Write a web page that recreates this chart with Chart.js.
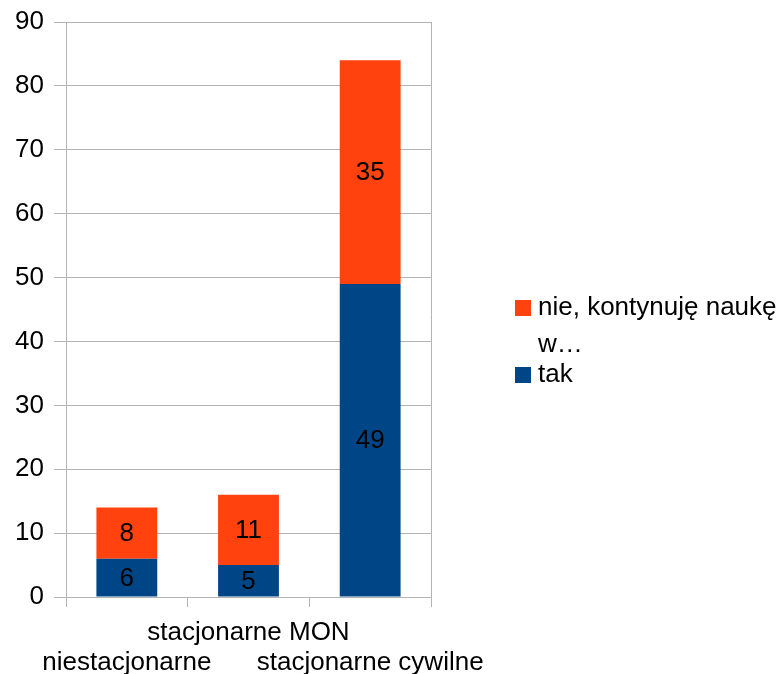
<!DOCTYPE html>
<html>
<head>
<meta charset="utf-8">
<script src="https://cdn.jsdelivr.net/npm/chart.js@4/dist/chart.umd.min.js"></script>
<style>
  html, body { margin: 0; padding: 0; background: #fff; }
  #wrap { width: 778px; height: 674px; }
</style>
</head>
<body>
<div id="wrap"><canvas id="chart" width="778" height="674"></canvas></div>
<script>
// Data
const categories = [['', 'niestacjonarne'], ['stacjonarne MON', ''], ['', 'stacjonarne cywilne']];
const takValues = [6, 5, 49];
const nieValues = [8, 11, 35];
const seriesNames = ['tak', 'nie, kontynuję naukę w…'];
const legendLines = [['nie, kontynuję naukę', 'w…'], ['tak']];
const yTicks = [0, 10, 20, 30, 40, 50, 60, 70, 80, 90];

const BLUE = '#004586';
const ORANGE = '#ff420e';
const FONT = "'Liberation Sans', Arial, sans-serif";

// Value labels in the middle of each segment
const segmentLabels = {
    id: 'segmentLabels',
    afterDatasetsDraw(chart) {
        const ctx = chart.ctx;
        ctx.save();
        ctx.font = '26px ' + FONT;
        ctx.fillStyle = '#000';
        ctx.textAlign = 'center';
        ctx.textBaseline = 'middle';
        chart.data.datasets.forEach((ds, i) => {
            chart.getDatasetMeta(i).data.forEach((bar, j) => {
                const y = (bar.y + bar.base) / 2;
                ctx.fillText(String(ds.data[j]), bar.x, y + 1);
            });
        });
        ctx.restore();
    }
};

// Right border of the plot + legend on the right
const frameAndLegend = {
    id: 'frameAndLegend',
    afterDraw(chart) {
        const ctx = chart.ctx;
        const area = chart.chartArea;
        ctx.save();
        ctx.strokeStyle = '#b3b3b3';
        ctx.lineWidth = 1;
        ctx.beginPath();
        ctx.moveTo(Math.round(area.right) + 0.5, area.top);
        ctx.lineTo(Math.round(area.right) + 0.5, area.bottom + 10);
        ctx.stroke();

        // legend (reverse order, like the original)
        const items = chart.data.datasets.slice().reverse();
        const boxX = area.right + 84;
        let y = 300;
        ctx.font = '26px ' + FONT;
        ctx.textBaseline = 'middle';
        ctx.textAlign = 'left';
        items.forEach((ds, k) => {
            ctx.fillStyle = ds.backgroundColor;
            ctx.fillRect(boxX, y, 16, 16);
            ctx.fillStyle = '#000';
            legendLines[k].forEach((line, n) => {
                ctx.fillText(line, boxX + 23, y + 8 + n * 37);
            });
            y += legendLines[k].length * 37 - 7;
        });
        ctx.restore();
    }
};

new Chart(document.getElementById('chart'), {
    type: 'bar',
    data: {
        labels: categories,
        datasets: [
            { label: seriesNames[0], data: takValues, backgroundColor: BLUE },
            { label: seriesNames[1], data: nieValues, backgroundColor: ORANGE }
        ]
    },
    options: {
        responsive: false,
        animation: false,
        layout: { padding: { top: 22, right: 347, left: 0, bottom: 0 } },
        plugins: {
            legend: { display: false },
            tooltip: { enabled: false }
        },
        datasets: {
            bar: { categoryPercentage: 1.0, barPercentage: 0.5 }
        },
        scales: {
            x: {
                stacked: true,
                offset: true,
                afterFit(scale) {
                    scale.height = 77;
                    scale.paddingLeft = 0;
                    scale.paddingRight = 0;
                },
                grid: {
                    offset: true,
                    drawOnChartArea: false,
                    color: '#b3b3b3',
                    tickLength: 10
                },
                border: { color: '#b3b3b3' },
                ticks: {
                    color: '#000',
                    font: { family: FONT, size: 26, lineHeight: 1.15 },
                    maxRotation: 0,
                    autoSkip: false,
                    padding: 11
                }
            },
            y: {
                stacked: true,
                min: 0,
                max: 90,
                afterFit(scale) {
                    scale.width = 66;
                    scale.paddingTop = 0;
                    scale.paddingBottom = 0;
                },
                afterBuildTicks(scale) { scale.ticks = yTicks.map(v => ({ value: v })); },
                grid: { color: '#b3b3b3', tickLength: 12 },
                border: { color: '#b3b3b3' },
                ticks: {
                    color: '#000',
                    font: { family: FONT, size: 26 },
                    padding: 10
                }
            }
        }
    },
    plugins: [segmentLabels, frameAndLegend]
});
</script>
</body>
</html>
